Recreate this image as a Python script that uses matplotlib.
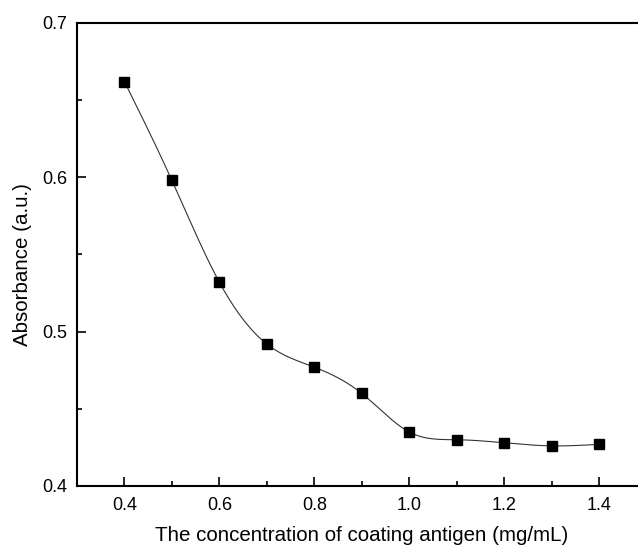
import numpy as np
import matplotlib
matplotlib.use("Agg")
import matplotlib.pyplot as plt
from matplotlib.ticker import MultipleLocator

conc = [0.4, 0.5, 0.6, 0.7, 0.8, 0.9, 1.0, 1.1, 1.2, 1.3, 1.4]
absorb = [0.662, 0.598, 0.532, 0.492, 0.477, 0.460, 0.435, 0.430, 0.428, 0.426, 0.427]


def natural_spline(x, y, xs):
    # plain natural cubic spline, only for the smooth connecting line
    x = np.asarray(x, float)
    y = np.asarray(y, float)
    n = len(x)
    h = np.diff(x)
    A = np.zeros((n, n))
    b = np.zeros(n)
    A[0, 0] = A[-1, -1] = 1
    for i in range(1, n - 1):
        A[i, i - 1] = h[i - 1]
        A[i, i] = 2 * (h[i - 1] + h[i])
        A[i, i + 1] = h[i]
        b[i] = 3 * ((y[i + 1] - y[i]) / h[i] - (y[i] - y[i - 1]) / h[i - 1])
    c = np.linalg.solve(A, b)
    out = np.empty_like(xs)
    for k, xv in enumerate(xs):
        i = min(max(np.searchsorted(x, xv) - 1, 0), n - 2)
        dx = xv - x[i]
        bi = (y[i + 1] - y[i]) / h[i] - h[i] * (2 * c[i] + c[i + 1]) / 3
        di = (c[i + 1] - c[i]) / (3 * h[i])
        out[k] = y[i] + bi * dx + c[i] * dx ** 2 + di * dx ** 3
    return out


plt.rcParams['font.family'] = ['Liberation Sans', 'DejaVu Sans']

fig = plt.figure(figsize=(6.38, 5.5), dpi=100)
ax = fig.add_axes([77 / 638, 1 - 486 / 550, (646.5 - 77) / 638, (486 - 23) / 550])

xs = np.linspace(conc[0], conc[-1], 400)
ax.plot(xs, natural_spline(conc, absorb, xs), color='#333333', lw=0.8)
ax.plot(conc, absorb, 's', color='black', markersize=7.3)

ax.set_xlim(0.3, 1.5)
ax.set_ylim(0.4, 0.7)
ax.xaxis.set_major_locator(MultipleLocator(0.2))
ax.xaxis.set_minor_locator(MultipleLocator(0.1))
ax.yaxis.set_major_locator(MultipleLocator(0.1))
ax.yaxis.set_minor_locator(MultipleLocator(0.05))
ax.xaxis.set_major_formatter(plt.FormatStrFormatter('%.1f'))
ax.yaxis.set_major_formatter(plt.FormatStrFormatter('%.1f'))

for s in ax.spines.values():
    s.set_linewidth(1.5)
ax.tick_params(which='both', direction='in', width=1.2, labelsize=13)
ax.tick_params(axis='y', which='major', length=6.5, pad=7)
ax.tick_params(axis='x', which='major', length=6.5, pad=8)
ax.tick_params(which='minor', length=3.5)

ax.set_xlabel("The concentration of coating antigen (mg/mL)", fontsize=14.8, va='center')
ax.set_ylabel("Absorbance (a.u.)", fontsize=14.8, va='center')
ax.xaxis.set_label_coords(0.5, -0.106)
ax.yaxis.set_label_coords(-0.095, 0.479)

fig.savefig("out.png", dpi=100)
